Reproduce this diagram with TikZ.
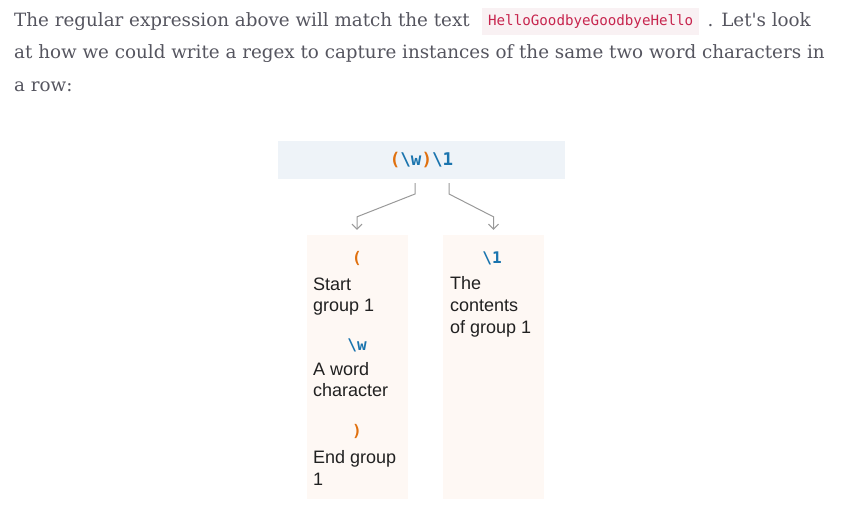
\documentclass[tikz,border=0pt]{standalone}
\usepackage{fontspec}
\setmainfont{Liberation Sans}
\newfontfamily\parafont{DejaVu Serif}
\newfontfamily\codefont{DejaVu Sans Mono}
\usetikzlibrary{arrows.meta,calc}
\definecolor{paragray}{HTML}{55555F}
\definecolor{codepink}{HTML}{F9F1F3}
\definecolor{codered}{HTML}{C7254E}
\definecolor{regexbg}{HTML}{EEF3F8}
\definecolor{groupor}{HTML}{E0700E}
\definecolor{escblue}{HTML}{1A74AE}
\definecolor{colbg}{HTML}{FEF8F4}
\definecolor{conngray}{HTML}{999999}
\newcommand{\op}[1]{\textcolor{groupor}{#1}}
\newcommand{\es}[1]{\textcolor{escblue}{#1}}
\tikzset{
  para/.style={inner sep=0pt, anchor=base west, text=paragray, font=\parafont\fontsize{18.3}{21}\selectfont},
  colbox/.style={fill=colbg, minimum width=101pt, minimum height=264pt, inner sep=0pt},
  conn/.style={draw=conngray, line width=1pt, -{Straight Barb[length=5pt,width=10pt]}, shorten <=4pt, shorten >=5pt},
  tok/.style={inner sep=0pt, font=\codefont\bfseries\fontsize{16}{18}\selectfont},
  desc/.style={inner sep=0pt, anchor=base west, align=left, text=black!87, font=\fontsize{18}{21.7}\selectfont}
}
\begin{document}
\begin{tikzpicture}[x=1pt,y=-1pt]
\useasboundingbox (0,0) rectangle (842,525);
% paragraph
\node[para] (line1) at (14,26) {The regular expression above will match the text};
\node[fill=codepink, minimum height=27pt, inner sep=0pt, inner xsep=6pt, anchor=west, text=codered, font=\codefont\fontsize{14.2}{16}\selectfont] (sample) at ($(line1.base east)+(12,-4.5)$) {HelloGoodbyeGoodbyeHello};
\node[para] (line1b) at ($(sample.east |- line1.base)+(8,0)$) {. Let's look};
\node[para] (line2) at (14,58.5) {at how we could write a regex to capture instances of the same two word characters in};
\node[para] (line3) at (14,91) {a row:};

% regex
\node[fill=regexbg, minimum width=287pt, minimum height=38pt, inner sep=0pt, font=\codefont\bfseries\fontsize{17.5}{20}\selectfont] (regex) at (421.5,160) {\op{(}\es{\textbackslash w}\op{)}\es{\textbackslash 1}};

% columns
\node[colbox] (colL) at (357,367) {};
\node[colbox] (colR) at (493.5,367) {};

\coordinate (lsrc) at (415,179);
\coordinate (rsrc) at (449,179);
\draw[conn] (lsrc) -- ++(0,15) -- ($(colL.north)+(0,-18)$) -- (colL.north);
\draw[conn] (rsrc) -- ++(0,15) -- ($(colR.north)+(0,-18)$) -- (colR.north);

% left column
\node[tok, text=groupor] (open) at (357,258) {(};
\node[desc] (opentxt) at (313,311.7) {Start\\group 1};
\node[tok, text=escblue] (word) at (357,345) {\textbackslash w};
\node[desc] (wordtxt) at (313,396.7) {A word\\character};
\node[tok, text=groupor] (close) at (357,431) {)};
\node[desc] (closetxt) at (313,485) {End group\\1};

% right column
\node[tok, text=escblue] (back) at (492,258) {\textbackslash 1};
\node[desc] (backtxt) at (450,333) {The\\contents\\of group 1};
\end{tikzpicture}
\end{document}
